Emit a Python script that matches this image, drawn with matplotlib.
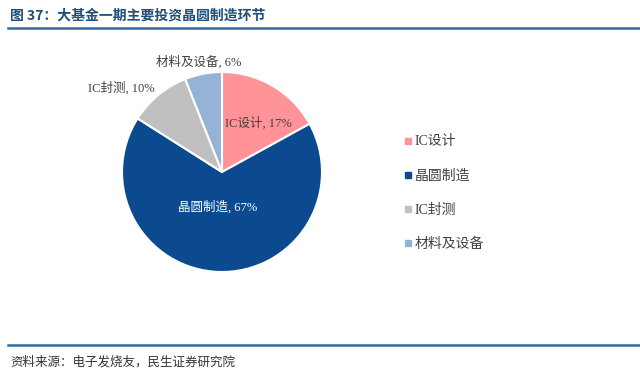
import numpy as np
import matplotlib.pyplot as plt
from matplotlib.lines import Line2D

plt.rcParams['font.family'] = ['Liberation Serif', 'Noto Sans CJK SC', 'DejaVu Sans']

categories = ['IC设计', '晶圆制造', 'IC封测', '材料及设备']
shares = [17, 67, 10, 6]
colors = ['#FF9397', '#0B4A8E', '#C0C0C0', '#95B3D7']
# label position (data units) and colour for each slice label
label_pos = [(0.36, 0.49), (-0.04, -0.35), (-1.01, 0.84), (-0.23, 1.10)]
label_col = ['#404040', 'white', '#404040', '#404040']

W, H = 640, 380
fig = plt.figure(figsize=(W / 100, H / 100), dpi=100)

# pie axes: centre (222,172) px, radius 100 px
cx, cy, r = 222, 172, 100
ax = fig.add_axes([(cx - r) / W, (H - cy - r) / H, 2 * r / W, 2 * r / H])
wedges, _ = ax.pie(shares, colors=colors, startangle=90, counterclock=False,
                   wedgeprops=dict(edgecolor='white', linewidth=1.5))
ax.set_xlim(-1, 1)
ax.set_ylim(-1, 1)
ax.set_aspect('equal')
ax.axis('off')

for cat, s, (lx, ly), c in zip(categories, shares, label_pos, label_col):
    ax.text(lx, ly, f'{cat}, {s}%', ha='center', va='center', fontsize=9,
            color=c, clip_on=False)

# legend
handles = [Line2D([], [], marker='s', linestyle='none', markersize=4,
                  markerfacecolor=c, markeredgecolor=c) for c in colors]
fig.legend(handles, categories, loc='center left', bbox_to_anchor=(390 / W, 1 - 193 / H),
           frameon=False, fontsize=10, labelspacing=1.5, handletextpad=0.1,
           handlelength=0.8, labelcolor='#404040')

# title and rules
fig.text(10 / W, 1 - 16 / H, '图 37：大基金一期主要投资晶圆制造环节', fontsize=10,
         fontweight='bold', color='#1F4E79', va='center', ha='left',
         family=['Noto Sans CJK SC', 'DejaVu Sans'])
fig.add_artist(Line2D([8 / W, 1], [1 - 28 / H, 1 - 28 / H], color='#2E6AA3', lw=1.8))
fig.add_artist(Line2D([8 / W, 1], [1 - 345 / H, 1 - 345 / H], color='#2E6AA3', lw=1.8))
fig.text(10 / W, 1 - 362 / H, '资料来源：电子发烧友，民生证券研究院', fontsize=9,
         color='#333333', va='center', ha='left',
         family=['Noto Sans CJK SC', 'DejaVu Sans'])

fig.savefig('out.png', dpi=100)
